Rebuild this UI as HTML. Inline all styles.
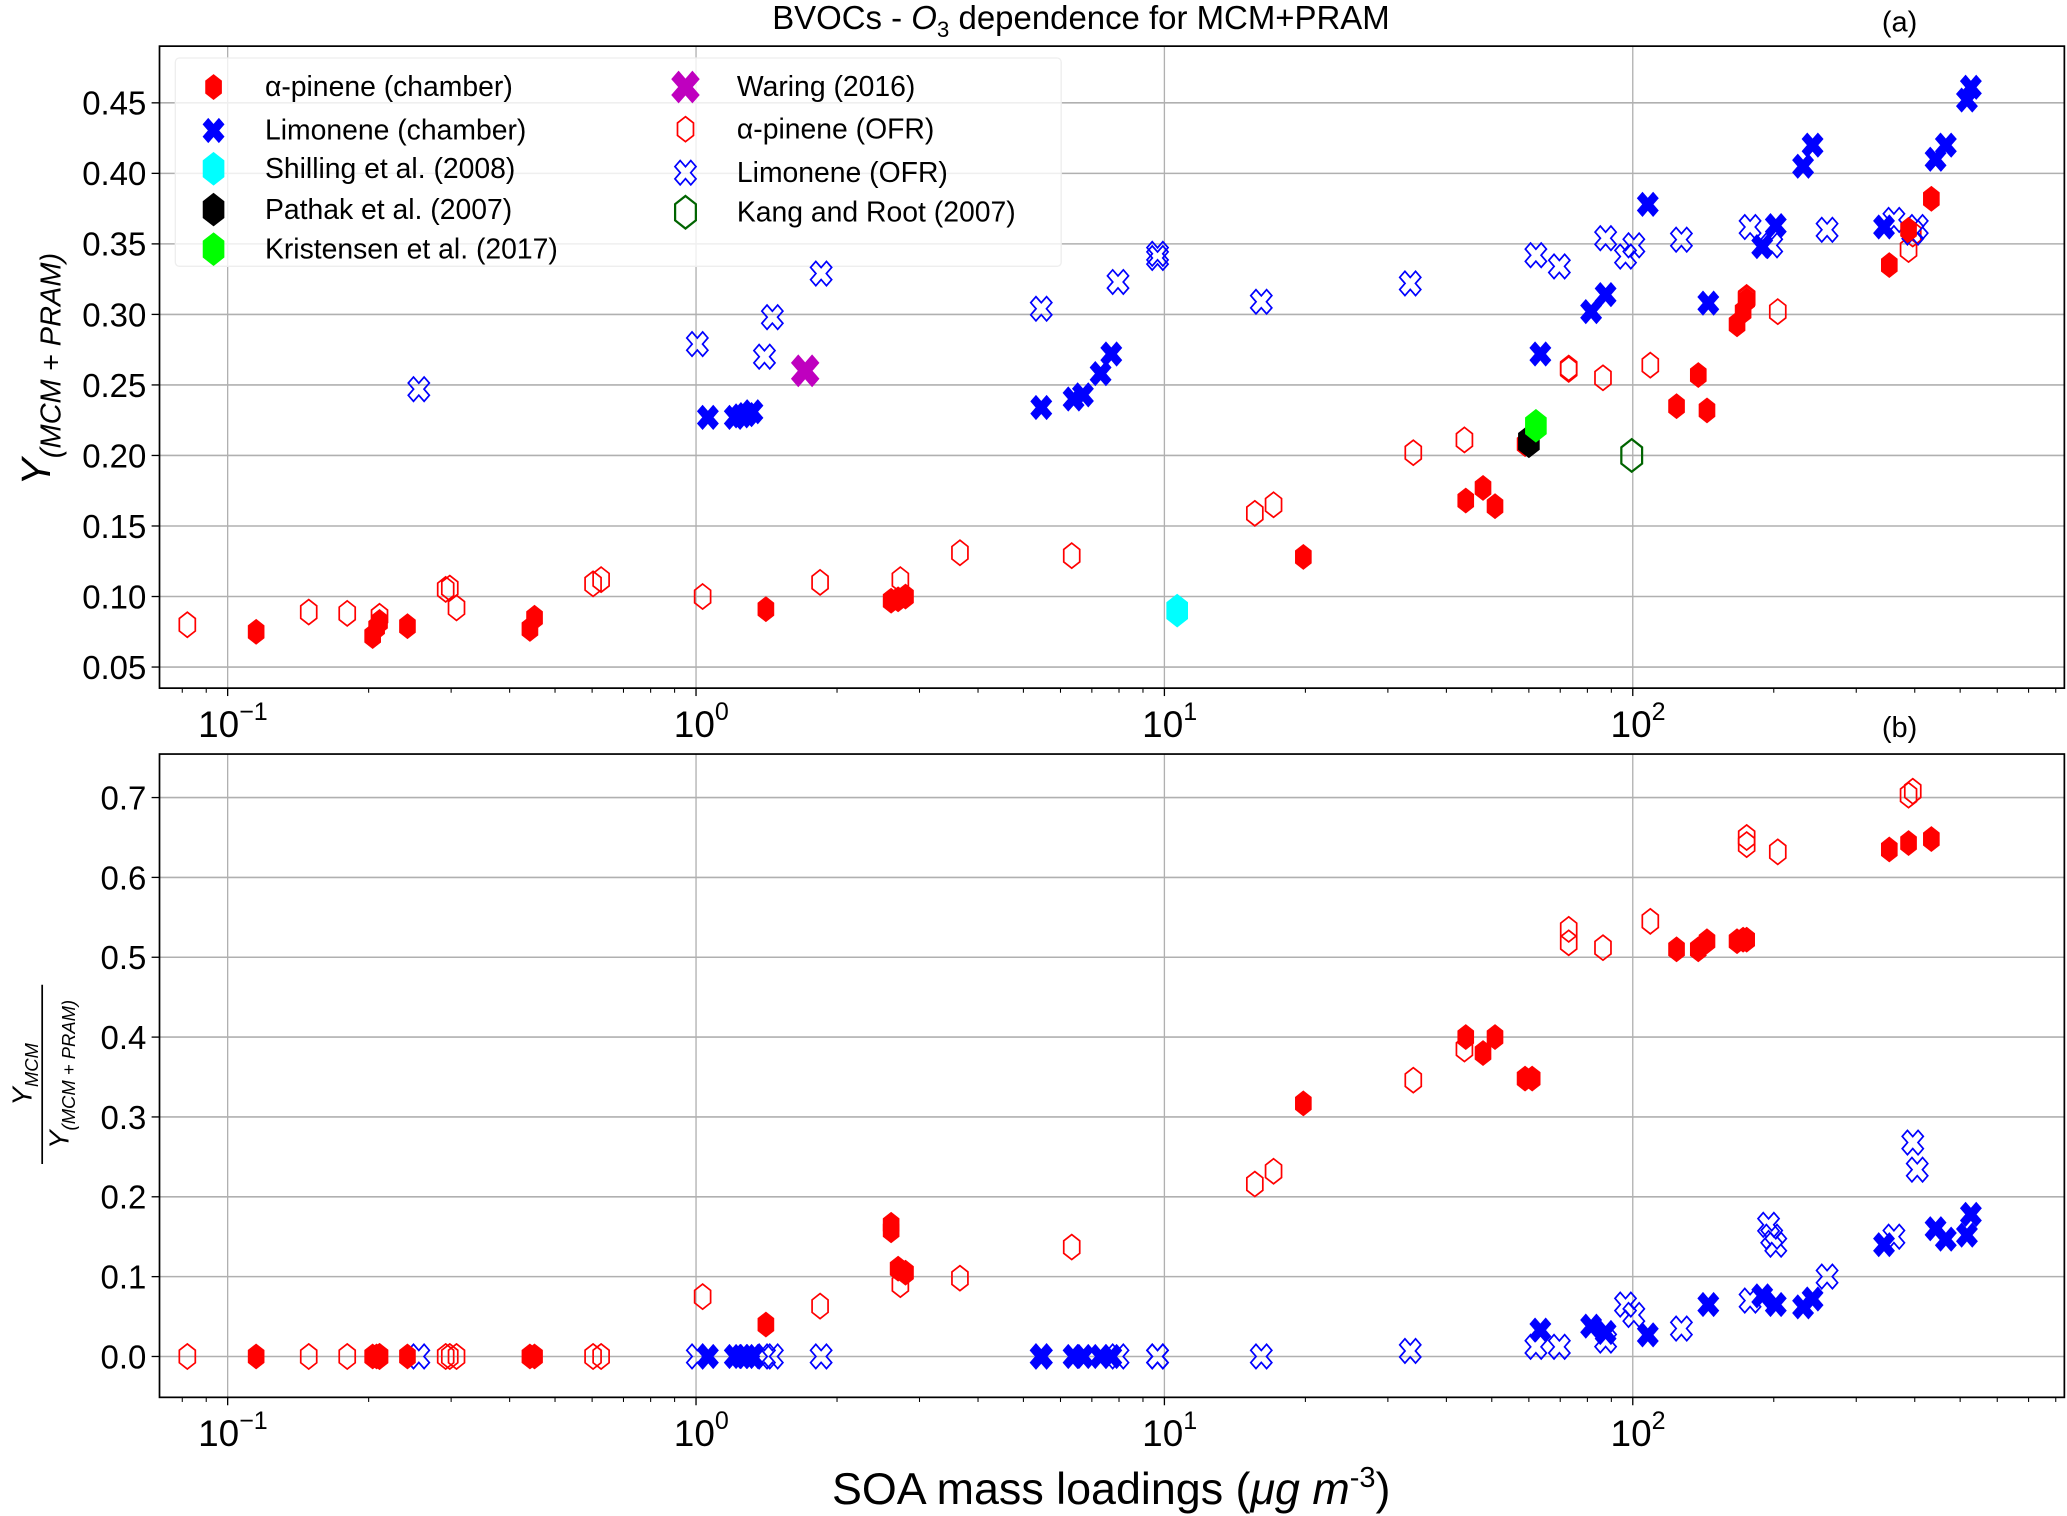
<!DOCTYPE html>
<html><head><meta charset="utf-8"><style>
html,body{margin:0;padding:0;background:#fff}
svg{display:block}
text{font-family:"Liberation Sans","DejaVu Sans",sans-serif;fill:#000}
</style></head><body>
<svg id="chart" width="2067" height="1516" viewBox="0 0 1568 1150" xmlns="http://www.w3.org/2000/svg">
<text x="820" y="22" font-size="25" text-anchor="middle">BVOCs - <tspan font-style="italic">O</tspan><tspan font-size="17" dy="6">3</tspan><tspan dy="-6"> dependence for MCM+PRAM</tspan></text>
<text x="1441" y="24" font-size="22" text-anchor="middle">(a)</text>
<text x="1441" y="559" font-size="22" text-anchor="middle">(b)</text>
<g id="gA"></g>
<g id="gB"></g>
<g id="legend"></g>
<text transform="translate(38,280) rotate(-90)" font-size="31" text-anchor="middle" font-style="italic">Y<tspan font-size="22" dy="8">(MCM + PRAM)</tspan></text>
<g transform="translate(32,815) rotate(-90)">
<text x="0" y="-8" font-size="21" text-anchor="middle" font-style="italic">Y<tspan font-size="14" dy="5">MCM</tspan></text>
<line x1="-68" x2="68" y1="0" y2="0" stroke="#000" stroke-width="1.3"/>
<text x="0" y="20" font-size="21" text-anchor="middle" font-style="italic">Y<tspan font-size="14" dy="5">(MCM + PRAM)</tspan></text>
</g>
<text x="843" y="1141" font-size="34" text-anchor="middle">SOA mass loadings (<tspan font-style="italic">μg m</tspan><tspan font-size="22" dy="-13">-3</tspan><tspan dy="13">)</tspan></text>
</svg>
<script>
// ---- data ----
const apChamberX = [0.115,0.204,0.208,0.211,0.242,0.442,0.452,1.41,2.61,2.70,2.80,19.8,44,47.9,50.8,58.9,124,138,144,167,172,175,353,388,434];
const apChamberA = [0.075,0.072,0.078,0.082,0.079,0.077,0.085,0.091,0.097,0.098,0.100,0.128,0.168,0.177,0.164,0.208,0.235,0.257,0.232,0.293,0.302,0.310,0.335,0.360,0.382];
const apChamberB = [0.0,0.0,0.0,0.0,0.0,0.0,0.0,0.040,0.165,0.110,0.105,0.317,0.400,0.380,0.400,0.348,0.510,0.510,0.520,0.520,0.522,0.522,0.635,0.643,0.648];
const apChamberB2X = [2.61,61];
const apChamberB2 = [0.158,0.348];

const apOfrX = [0.082,0.149,0.180,0.211,0.292,0.298,0.308,0.603,0.627,1.033,1.84,2.73,3.66,6.34,15.6,17.1,34.0,43.7,73,73,86.4,109,175,175,204,388,396];
const apOfrA = [0.080,0.089,0.088,0.086,0.105,0.106,0.092,0.109,0.112,0.100,0.110,0.112,0.131,0.129,0.159,0.165,0.202,0.211,0.261,0.262,0.255,0.264,0.311,0.312,0.302,0.346,0.357];
const apOfrB = [0.0,0.0,0.0,0.0,0.0,0.0,0.0,0.0,0.0,0.075,0.063,0.090,0.098,0.137,0.216,0.232,0.346,0.385,0.518,0.535,0.512,0.545,0.641,0.650,0.632,0.703,0.708];

const limChamberX = [1.06,1.21,1.25,1.28,1.32,5.46,6.4,6.7,7.31,7.7,63.5,81.5,87.5,107.7,145,189,202,231,242,344,443,466,517,527];
const limChamberA = [0.227,0.227,0.228,0.229,0.231,0.234,0.240,0.243,0.258,0.272,0.272,0.302,0.314,0.378,0.308,0.348,0.363,0.405,0.420,0.362,0.410,0.420,0.452,0.461];
const limChamberB = [0.0,0.0,0.0,0.0,0.0,0.0,0.0,0.0,0.0,0.0,0.033,0.038,0.030,0.027,0.065,0.076,0.065,0.062,0.072,0.140,0.160,0.147,0.152,0.178];

const limOfrX = [0.256,1.0065,1.40,1.455,1.85,5.46,7.96,9.67,9.67,16.1,33.5,62.1,69.7,87.5,96.5,100.5,127,178,198,260,361,396,405];
const limOfrA = [0.247,0.279,0.270,0.298,0.329,0.304,0.323,0.343,0.340,0.309,0.322,0.342,0.334,0.354,0.341,0.349,0.353,0.362,0.349,0.360,0.367,0.358,0.362];
const limOfrB = [0.0,0.0,0.0,0.0,0.0,0.0,0.0,0.0,0.0,0.0,0.007,0.012,0.012,0.020,0.065,0.052,0.035,0.070,0.150,0.100,0.150,0.268,0.234];
const limOfrB2X = [195,202];
const limOfrB2 = [0.165,0.140];

const shillingX = [10.65], shillingA = [0.090];
const waringX = [1.71], waringA = [0.260];
const pathakX = [60], pathakA = [0.210];
const kristensenX = [62.1], kristensenA = [0.221];
const kangX = [99.5], kangA = [0.200];

const yTicksA = [0.05,0.10,0.15,0.20,0.25,0.30,0.35,0.40,0.45];
const yTicksB = [0.0,0.1,0.2,0.3,0.4,0.5,0.6,0.7];
const xDecades = [-1,0,1,2];

// ---- axes ----
const L=121,R=1566;
const xs = v => 528 + 355.3*Math.log10(v);
const A={t:35,b:522, y:v=>506-(v-0.05)/0.4*428};
const B={t:572,b:1060, y:v=>1029-v*605.7};
const NS="http://www.w3.org/2000/svg";
function mk(tag,attrs,parent){const e=document.createElementNS(NS,tag);for(const k in attrs)e.setAttribute(k,attrs[k]);parent.appendChild(e);return e;}

const hexPts=(()=>{let p=[];for(let i=0;i<6;i++){const a=Math.PI/3*i-Math.PI/2;p.push((Math.cos(a)*7).toFixed(2)+","+(Math.sin(a)*9.5).toFixed(2));}return p.join(" ");})();
const xPts=(()=>{const w=2.8,l=8.5;const base=[[-w,-l],[w,-l],[w,-w],[l,-w],[l,w],[w,w],[w,l],[-w,l],[-w,w],[-l,w],[-l,-w],[-w,-w]];const c=Math.SQRT1_2;return base.map(([x,y])=>((x*c-y*c)).toFixed(2)+","+((x*c+y*c)*1.15).toFixed(2)).join(" ");})();

function marker(parent,kind,cx,cy,fill,stroke,name,scale){
  scale=scale||1;
  const g=mk('g',{transform:`translate(${cx.toFixed(1)},${cy.toFixed(1)}) scale(${scale})`},parent);
  mk('polygon',{points:kind==='h'?hexPts:xPts,fill:fill,stroke:stroke,'stroke-width':fill==='none'?1.3:0.5},g);
  
  
  return g;
}

function axes(g,P,ticks,fmt,prefix){
  mk('rect',{x:L,y:P.t,width:R-L,height:P.b-P.t,fill:'#fff'},g);
  ticks.forEach(t=>{
    const y=P.y(t);
    const gl=mk('line',{x1:L,x2:R,y1:y,y2:y,stroke:'#b0b0b0','stroke-width':1.2},g);
    
    
    mk('line',{x1:L-6,x2:L,y1:y,y2:y,stroke:'#000','stroke-width':1},g);
    const tx=mk('text',{x:L-10,y:y+9,'font-size':25,'text-anchor':'end'},g);
    tx.textContent=fmt(t);
    
    
  });
  xDecades.forEach(d=>{
    const x=xs(Math.pow(10,d));
    const gl=mk('line',{x1:x,x2:x,y1:P.t,y2:P.b,stroke:'#b0b0b0','stroke-width':1},g);
    
    
    mk('line',{x1:x,x2:x,y1:P.b,y2:P.b+6,stroke:'#000','stroke-width':1},g);
    const tx=mk('text',{x:x+4,y:P.b+37,'font-size':28,'text-anchor':'middle'},g);
    
    
    tx.textContent='10';
    const s=mk('tspan',{'font-size':19,dy:-13},tx); s.textContent=(d<0?'\u2212':'')+Math.abs(d);
  });
  for(let d=-2;d<=2;d++)for(let m=2;m<=9;m++){const x=xs(m*Math.pow(10,d));if(x>L&&x<R)mk('line',{x1:x,x2:x,y1:P.b,y2:P.b+3.5,stroke:'#000','stroke-width':0.8},g);}
}
const gA=document.getElementById('gA'),gB=document.getElementById('gB');
axes(gA,A,yTicksA,t=>t.toFixed(2),'a-');
axes(gB,B,yTicksB,t=>t.toFixed(1),'b-');

function series(g,P,xsArr,ysArr,kind,fill,stroke,name){
  xsArr.forEach((v,i)=>marker(g,kind,xs(v),P.y(ysArr[i]),fill,stroke,name));
}
const RED='#ff0000',BLUE='#0000ff';
// legend (drawn beneath points so overlapping markers stay visible)
const lg=document.getElementById('legend');
const lbg=mk('rect',{x:133,y:44,width:672,height:158,fill:'#fff','fill-opacity':0.8,stroke:'#eeeeee','stroke-width':1,rx:3},gA);


// panel a
series(gA,A,apOfrX,apOfrA,'h','none',RED,'alpha-pinene-ofr-point');
series(gA,A,limOfrX,limOfrA,'x','none',BLUE,'limonene-ofr-point');
series(gA,A,apChamberX,apChamberA,'h',RED,RED,'alpha-pinene-chamber-point');
series(gA,A,limChamberX,limChamberA,'x',BLUE,BLUE,'limonene-chamber-point');
shillingX.forEach((v,i)=>marker(gA,'h',xs(v),A.y(shillingA[i]),'#00ffff','#00ffff','shilling-point',1.3));
waringX.forEach((v,i)=>marker(gA,'x',xs(v),A.y(waringA[i]),'#bf00bf','#bf00bf','waring-point',1.3));
pathakX.forEach((v,i)=>marker(gA,'h',xs(v),A.y(pathakA[i]),'#000','#000','pathak-point',1.3));
kristensenX.forEach((v,i)=>marker(gA,'h',xs(v),A.y(kristensenA[i]),'#00ff00','#00ff00','kristensen-point',1.3));
kangX.forEach((v,i)=>marker(gA,'h',xs(v),A.y(kangA[i]),'none','#006400','kang-root-point',1.3));
mk('rect',{x:L,y:A.t,width:R-L,height:A.b-A.t,fill:'none',stroke:'#000','stroke-width':1.3},gA);
// panel b
series(gB,B,apOfrX,apOfrB,'h','none',RED,'alpha-pinene-ofr-point');
series(gB,B,limOfrX,limOfrB,'x','none',BLUE,'limonene-ofr-point');
series(gB,B,limOfrB2X,limOfrB2,'x','none',BLUE,'limonene-ofr-point');
series(gB,B,apChamberX,apChamberB,'h',RED,RED,'alpha-pinene-chamber-point');
series(gB,B,apChamberB2X,apChamberB2,'h',RED,RED,'alpha-pinene-chamber-point');
series(gB,B,limChamberX,limChamberB,'x',BLUE,BLUE,'limonene-chamber-point');
mk('rect',{x:L,y:B.t,width:R-L,height:B.b-B.t,fill:'none',stroke:'#000','stroke-width':1.3},gB);

const legendItems=[
 [162,66,'h',RED,RED,'α-pinene  (chamber)',1],
 [162,99,'x',BLUE,BLUE,'Limonene (chamber)',1],
 [162,128,'h','#00ffff','#00ffff','Shilling et al. (2008)',1.3],
 [162,159,'h','#000','#000','Pathak et al. (2007)',1.3],
 [162,189,'h','#00ff00','#00ff00','Kristensen et al. (2017)',1.3],
 [520,66,'x','#bf00bf','#bf00bf','Waring (2016)',1.3],
 [520,98,'h','none',RED,'α-pinene (OFR)',1],
 [520,131,'x','none',BLUE,'Limonene (OFR)',1],
 [520,161,'h','none','#006400','Kang and Root (2007)',1.3]
];
legendItems.forEach(it=>{
  const g=mk('g',{},lg);
  
  
  marker(g,it[2],it[0],it[1],it[3],it[4],'legend-marker',it[6]);
  const t=mk('text',{x:it[0]+39,y:it[1]+7,'font-size':21.5},g);
  t.textContent=it[5];
});
</script>
</body></html>
